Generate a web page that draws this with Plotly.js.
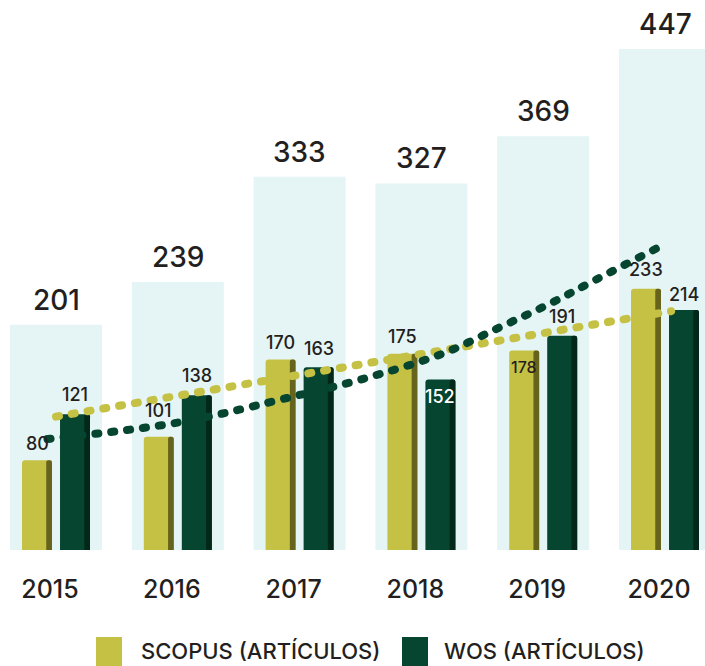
<!DOCTYPE html>
<html>
<head>
<meta charset="utf-8">
<script src="https://cdn.plot.ly/plotly-3.0.1.min.js"></script>
<style>
html,body{margin:0;padding:0;background:#fff;}
#chart{width:705px;height:666px;}
</style>
</head>
<body>
<div id="chart"></div>
<script>
// ---- data ----
const years = ['2015', '2016', '2017', '2018', '2019', '2020'];
const totals = [201, 239, 333, 327, 369, 447];
const scopus = [80, 101, 170, 175, 178, 233];
const wos = [121, 138, 163, 152, 191, 214];
const seriesNames = ['SCOPUS (ARTÍCULOS)', 'WOS (ARTÍCULOS)'];
// trend lines (x in category index units)
const trendScopusX = [0, 5.05];
const trendScopusY = [119, 213];
const trendWosX = [-0.07, 1.02, 1.95, 2.5, 3.17, 3.65, 4.06, 4.43, 4.93];
const trendWosY = [99, 114, 137, 152, 175, 199, 220, 241, 269];

// ---- styles ----
const C_BG = '#e5f4f4', C_SC = '#c5c145', C_SC_D = '#66631c', C_WO = '#064530', C_WO_D = '#02281a', C_TXT = '#231f20';
const FONT = 'Inter, "Noto Sans", sans-serif';
const idx = years.map((_, i) => i);
const BW = 0.246, STW = 0.047;
const scInside = [false, false, false, false, true, false];
const woInside = [false, false, false, true, false, false];
const scShift = [4, 14, 4, 5, -5, 7];
const woShift = [7, 7, 6, 0, 7, 3];

const traces = [
  {type: 'bar', x: idx, y: totals, width: 0.755, marker: {color: C_BG}, hoverinfo: 'skip', showlegend: false},
  {type: 'bar', x: idx, y: scopus, offset: -0.279, width: BW, marker: {color: C_SC, cornerradius: 3}, name: seriesNames[0], showlegend: false},
  {type: 'bar', x: idx, y: scopus, offset: -0.033 - STW, width: STW, marker: {color: C_SC_D, cornerradius: 2}, hoverinfo: 'skip', showlegend: false},
  {type: 'bar', x: idx, y: wos, offset: 0.033, width: BW, marker: {color: C_WO, cornerradius: 3}, name: seriesNames[1], showlegend: false},
  {type: 'bar', x: idx, y: wos, offset: 0.279 - STW, width: STW, marker: {color: C_WO_D, cornerradius: 2}, hoverinfo: 'skip', showlegend: false},
  {type: 'scatter', mode: 'lines', x: trendScopusX, y: trendScopusY, line: {color: C_SC, width: 8, dash: '3px,13px'}, hoverinfo: 'skip', showlegend: false},
  {type: 'scatter', mode: 'lines', x: trendWosX, y: trendWosY, line: {color: C_WO, width: 8, dash: '3px,13px', shape: 'spline'}, hoverinfo: 'skip', showlegend: false}
];

const annotations = [];
idx.forEach(i => {
  annotations.push({x: i, y: totals[i], text: String(totals[i]), showarrow: false, yanchor: 'bottom', yshift: 6,
    font: {family: FONT, size: 28, color: C_TXT, weight: 500}});
  annotations.push({x: i - 0.156, y: scopus[i], text: String(scopus[i]), showarrow: false,
    yanchor: scInside[i] ? 'top' : 'bottom', yshift: scShift[i],
    font: {family: FONT, size: scInside[i] ? 16 : 18, color: C_TXT, weight: 500}});
  annotations.push({x: i + 0.156, y: wos[i], text: String(wos[i]), showarrow: false,
    yanchor: woInside[i] ? 'top' : 'bottom', yshift: woInside[i] ? -4 : woShift[i],
    font: {family: FONT, size: 18, color: woInside[i] ? '#ffffff' : C_TXT, weight: 500}});
});
// legend texts
annotations.push({xref: 'paper', yref: 'paper', x: 139 / 705, y: -101 / 550, xanchor: 'left', yanchor: 'middle', text: seriesNames[0], showarrow: false,
  font: {family: FONT, size: 22, color: C_TXT, weight: 500}});
annotations.push({xref: 'paper', yref: 'paper', x: 442 / 705, y: -101 / 550, xanchor: 'left', yanchor: 'middle', text: seriesNames[1], showarrow: false,
  font: {family: FONT, size: 22, color: C_TXT, weight: 500}});

const shapes = [
  {type: 'rect', xref: 'paper', yref: 'paper', x0: 96 / 705, x1: 122 / 705, y0: -116 / 550, y1: -87 / 550, fillcolor: C_SC, line: {width: 0}},
  {type: 'rect', xref: 'paper', yref: 'paper', x0: 402 / 705, x1: 428 / 705, y0: -116 / 550, y1: -87 / 550, fillcolor: C_WO, line: {width: 0}}
];

const layout = {
  width: 705, height: 666,
  margin: {l: 0, r: 0, t: 0, b: 116},
  paper_bgcolor: '#ffffff', plot_bgcolor: '#ffffff',
  barmode: 'overlay',
  showlegend: false,
  xaxis: {range: [-0.4598, 5.3284], tickvals: idx, ticktext: years, ticks: '', showgrid: false, zeroline: false, showline: false,
    tickfont: {family: FONT, size: 25, color: C_TXT, weight: 500}, ticklabelstandoff: 22, ticklabelshift: -6, fixedrange: true},
  yaxis: {range: [0, 490.6], visible: false, showgrid: false, zeroline: false, fixedrange: true},
  annotations: annotations,
  shapes: shapes
};

Plotly.newPlot('chart', traces, layout, {displayModeBar: false, staticPlot: true}).then(() => {
  document.querySelectorAll('.scatterlayer .js-line').forEach(p => { p.style.strokeLinecap = 'round'; });
});
</script>
</body>
</html>
